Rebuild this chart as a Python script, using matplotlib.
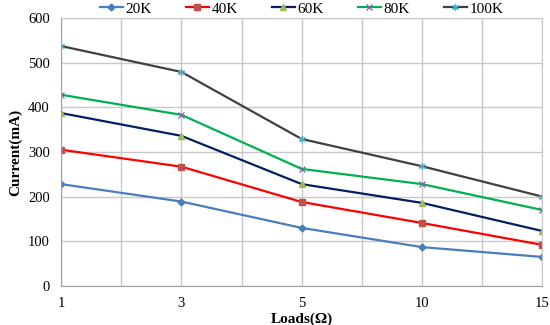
import numpy as np
import matplotlib
matplotlib.use('Agg')
import matplotlib.pyplot as plt
from matplotlib.ticker import MultipleLocator

plt.rcParams['font.family'] = ['Liberation Serif', 'DejaVu Serif']

loads = ['1', '3', '5', '10', '15']
i20k = [228, 189, 130, 87, 65]
i40k = [305, 267, 188, 141, 92]
i60k = [387, 336, 228, 186, 123]
i80k = [428, 383, 262, 228, 170]
i100k = [537, 479, 329, 268, 200]

x = np.arange(len(loads))

fig = plt.figure(figsize=(5.5, 3.25), dpi=100)
ax = fig.add_axes([0.111, 0.12, 0.875, 0.825])

ax.plot(x, i20k, color='#4a7ebb', lw=1.6, marker='D', ms=3.5, mfc='#4a7ebb', mec='#4a7ebb', label='20K')
ax.plot(x, i40k, color='#ff0000', lw=1.6, marker='s', ms=5, mfc='#c0504d', mec='#c0504d', label='40K')
ax.plot(x, i60k, color='#002060', lw=1.6, marker='^', ms=5, mfc='#9bbb59', mec='#9bbb59', label='60K')
ax.plot(x, i80k, color='#00b050', lw=1.6, marker='x', ms=4.5, mew=0.9, mec='#8064a2', label='80K')
ax.plot(x, i100k, color='#404040', lw=1.6, marker=(6, 2, 0), ms=5, mew=0.9, mec='#4bacc6', label='100K')

ax.set_xlim(0, 4)
ax.set_ylim(0, 600)
ax.set_xticks(x)
ax.set_xticklabels(loads)
ax.xaxis.set_minor_locator(MultipleLocator(0.5))
ax.yaxis.set_major_locator(MultipleLocator(100))
ax.grid(True, which='both', axis='x', color='#c8c8c8', lw=1)
ax.grid(True, which='major', axis='y', color='#c8c8c8', lw=1)
ax.tick_params(which='both', length=0, labelsize=10.5, pad=8)
for side in ['top', 'right']:
    ax.spines[side].set_color('#c8c8c8')
for side in ['left', 'bottom']:
    ax.spines[side].set_color('#a0a0a0')

ax.set_xlabel('Loads(Ω)', fontsize=11, fontweight='bold', labelpad=2)
ax.set_ylabel('Current(mA)', fontsize=11, fontweight='bold')

ax.legend(loc='lower center', bbox_to_anchor=(0.5, 0.985), ncol=5, frameon=False,
          prop={'size': 11}, handlelength=1.5, columnspacing=2.2,
          handletextpad=0.2, borderaxespad=0)

fig.savefig('out.png', dpi=100)
